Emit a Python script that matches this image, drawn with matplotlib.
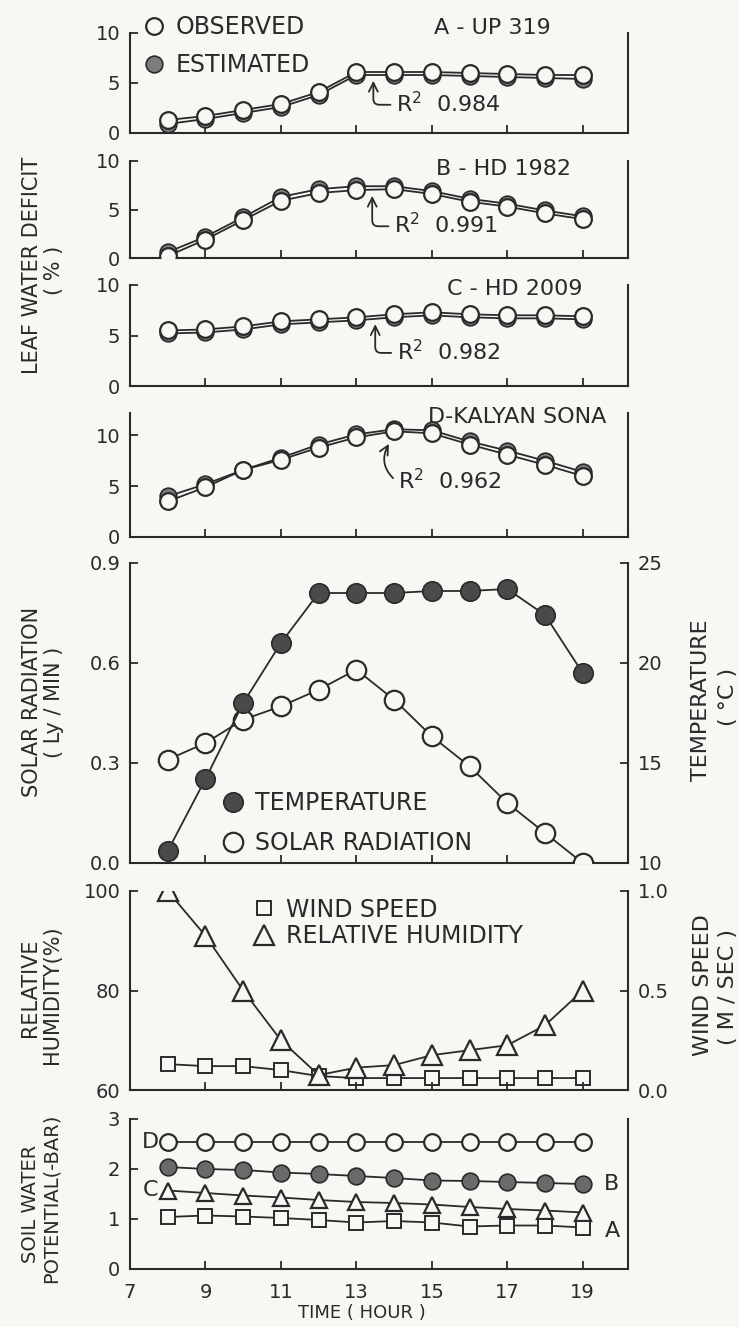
import matplotlib
matplotlib.use("Agg")
import matplotlib.pyplot as plt
from matplotlib.lines import Line2D

# ---------------- data ----------------
hours = [8, 9, 10, 11, 12, 13, 14, 15, 16, 17, 18, 19]

lwd_up319_obs = [1.3, 1.7, 2.3, 2.9, 4.1, 6.1, 6.1, 6.1, 6.0, 5.9, 5.8, 5.8]
lwd_up319_est = [0.9, 1.4, 2.0, 2.6, 3.8, 5.8, 5.8, 5.8, 5.7, 5.6, 5.5, 5.4]
lwd_hd1982_obs = [0.2, 1.9, 3.9, 5.9, 6.7, 7.0, 7.1, 6.6, 5.8, 5.3, 4.6, 4.0]
lwd_hd1982_est = [0.6, 2.2, 4.2, 6.3, 7.1, 7.4, 7.4, 6.9, 6.1, 5.6, 4.9, 4.3]
lwd_hd2009_obs = [5.5, 5.6, 5.9, 6.4, 6.6, 6.8, 7.1, 7.3, 7.1, 7.0, 7.0, 6.9]
lwd_hd2009_est = [5.2, 5.3, 5.6, 6.1, 6.3, 6.5, 6.8, 7.0, 6.8, 6.7, 6.7, 6.6]
lwd_kalyan_obs = [3.5, 4.9, 6.6, 7.6, 8.8, 9.8, 10.4, 10.2, 9.1, 8.1, 7.1, 6.0]
lwd_kalyan_est = [4.0, 5.2, 6.6, 7.8, 9.1, 10.1, 10.6, 10.5, 9.4, 8.5, 7.5, 6.4]
variety_labels = ["A - UP 319", "B - HD 1982", "C - HD 2009", "D-KALYAN SONA"]
r2_values = ["0.984", "0.991", "0.982", "0.962"]

solar_radiation = [0.31, 0.36, 0.43, 0.47, 0.52, 0.58, 0.49, 0.38, 0.29, 0.18, 0.09, 0.0]
temperature = [10.6, 14.2, 18.0, 21.0, 23.5, 23.5, 23.5, 23.6, 23.6, 23.7, 22.4, 19.5]

relative_humidity = [100, 91, 80, 70, 63, 64.5, 65, 67, 68, 69, 73, 80]
wind_speed = [0.13, 0.12, 0.12, 0.10, 0.07, 0.06, 0.06, 0.06, 0.06, 0.06, 0.06, 0.06]

swp_D = [2.55, 2.55, 2.55, 2.55, 2.55, 2.55, 2.55, 2.55, 2.55, 2.55, 2.55, 2.55]
swp_B = [2.04, 2.00, 1.98, 1.93, 1.90, 1.86, 1.82, 1.77, 1.76, 1.74, 1.72, 1.70]
swp_C = [1.57, 1.52, 1.47, 1.43, 1.38, 1.34, 1.32, 1.29, 1.24, 1.20, 1.17, 1.13]
swp_A = [1.04, 1.07, 1.05, 1.02, 0.98, 0.93, 0.96, 0.93, 0.85, 0.87, 0.87, 0.83]

x_ticks = [7, 9, 11, 13, 15, 17, 19]

# ---------------- style ----------------
W, H = 739, 1327
BG = "#f7f7f4"
INK = "#2a2a2a"
EST = "#7c7c7c"
DARK = "#4a4a4a"
LEFT, RIGHT = 130, 628
TICK_FS = 14
TEXT_FS = 17

fig = plt.figure(figsize=(W / 100, H / 100), dpi=100)
fig.patch.set_facecolor(BG)


def add_panel(top, bottom, ylim, yticks, bottom_labels=False):
    ax = fig.add_axes([LEFT / W, 1 - bottom / H, (RIGHT - LEFT) / W, (bottom - top) / H])
    ax.set_facecolor("none")
    ax.set_xlim(7, 20.2)
    ax.set_ylim(*ylim)
    ax.set_yticks(yticks)
    ax.spines["top"].set_visible(False)
    for s in ("left", "right", "bottom"):
        ax.spines[s].set_linewidth(1.5)
        ax.spines[s].set_color(INK)
    ax.tick_params(direction="in", length=6, width=1.3, color=INK,
                   labelsize=TICK_FS, labelcolor=INK, pad=7)
    if bottom_labels:
        ax.set_xticks(x_ticks)
        ax.tick_params(axis="x", pad=10)
    else:
        ax.set_xticks(x_ticks[1:])
        ax.tick_params(axis="x", labelbottom=False)
    return ax


def style_twin(ax2, ylim, yticks):
    ax2.set_xlim(7, 20.2)
    ax2.set_ylim(*ylim)
    ax2.set_yticks(yticks)
    for s in ("top", "left", "bottom"):
        ax2.spines[s].set_visible(False)
    ax2.spines["right"].set_linewidth(1.5)
    ax2.spines["right"].set_color(INK)
    ax2.tick_params(direction="in", length=6, width=1.3, color=INK,
                    labelsize=TICK_FS, labelcolor=INK, pad=7)


# ---------------- leaf water deficit panels ----------------
leaf_rows = [
    (33, 133, (0, 10), lwd_up319_obs, lwd_up319_est, (16.6, 10.5), (13.45, 5.5), (14.05, 2.95), "angle"),
    (161, 258, (0, 10), lwd_hd1982_obs, lwd_hd1982_est, (16.9, 9.2), (13.42, 6.7), (14.0, 3.4), "angle"),
    (285, 386, (0, 10), lwd_hd2009_obs, lwd_hd2009_est, (17.2, 9.6), (13.5, 6.4), (14.07, 3.4), "angle"),
    (413, 537, (0, 12.2), lwd_kalyan_obs, lwd_kalyan_est, (17.25, 11.8), (13.9, 9.4), (14.1, 5.5), "arc"),
]

leaf_axes = []
for i, (top, bot, yl, obs, est, tpos, pxy, rxy, kind) in enumerate(leaf_rows):
    ax = add_panel(top, bot, yl, [0, 5, 10])
    ax.plot(hours, est, "-", color=INK, lw=1.3, marker="o", ms=12, mfc=EST,
            mec=INK, mew=1.2, zorder=2)
    ax.plot(hours, obs, "-", color=INK, lw=1.3, marker="o", ms=12, mfc=BG,
            mec=INK, mew=1.6, zorder=3)
    ax.text(tpos[0], tpos[1], variety_labels[i], fontsize=16, color=INK,
            ha="center", va="center", clip_on=False)
    cs = "angle,angleA=0,angleB=90,rad=6" if kind == "angle" else "arc3,rad=-0.45"
    ax.annotate("R$^2$  " + r2_values[i], xy=pxy, xytext=rxy, fontsize=16,
                color=INK, ha="left", va="center",
                arrowprops=dict(arrowstyle="->", color=INK, lw=1.3,
                                connectionstyle=cs, relpos=(0, 0.45),
                                shrinkA=2, shrinkB=2))
    leaf_axes.append(ax)

leg_handles = [
    Line2D([], [], ls="none", marker="o", ms=12, mfc=BG, mec=INK, mew=1.6),
    Line2D([], [], ls="none", marker="o", ms=12, mfc=EST, mec=INK, mew=1.2),
]
leaf_axes[0].legend(leg_handles, ["OBSERVED", "ESTIMATED"], loc="upper left",
                    bbox_to_anchor=(0.024, 1.18), frameon=False, fontsize=TEXT_FS,
                    handlelength=1.0, handletextpad=0.42, labelspacing=0.6,
                    borderpad=0, borderaxespad=0, labelcolor=INK)

# ---------------- solar radiation / temperature ----------------
axs = add_panel(563, 863, (0, 0.9), [0.0, 0.3, 0.6, 0.9])
axs.yaxis.set_major_formatter(matplotlib.ticker.FormatStrFormatter("%.1f"))
axs.spines["right"].set_visible(False)
axs.plot(hours, solar_radiation, "-", color=INK, lw=1.3, marker="o", ms=14,
         mfc=BG, mec=INK, mew=1.6, zorder=3)
axt = axs.twinx()
style_twin(axt, (10, 25), [10, 15, 20, 25])
axt.plot(hours, temperature, "-", color=INK, lw=1.3, marker="o", ms=14,
         mfc=DARK, mec=INK, mew=1.2, zorder=3)
st_handles = [
    Line2D([], [], ls="none", marker="o", ms=14, mfc=DARK, mec=INK, mew=1.2),
    Line2D([], [], ls="none", marker="o", ms=14, mfc=BG, mec=INK, mew=1.6),
]
axt.legend(st_handles, ["TEMPERATURE", "SOLAR RADIATION"], loc="upper left",
           bbox_to_anchor=(0.184, 0.24), frameon=False, fontsize=TEXT_FS,
           handlelength=1.0, handletextpad=0.42, labelspacing=0.68,
           borderpad=0, borderaxespad=0, labelcolor=INK)

# ---------------- relative humidity / wind speed ----------------
axr = add_panel(891, 1090, (60, 100), [60, 80, 100])
axr.spines["right"].set_visible(False)
axr.plot(hours, relative_humidity, "-", color=INK, lw=1.3, marker="^", ms=14,
         mfc=BG, mec=INK, mew=1.6, zorder=4)
axw = axr.twinx()
style_twin(axw, (0, 1.0), [0.0, 0.5, 1.0])
axw.yaxis.set_major_formatter(matplotlib.ticker.FormatStrFormatter("%.1f"))
axw.plot(hours, wind_speed, "-", color=INK, lw=1.3, marker="s", ms=10,
         mfc=BG, mec=INK, mew=1.4, zorder=2)
axr.set_zorder(axw.get_zorder() + 1)
rw_handles = [
    Line2D([], [], ls="none", marker="s", ms=10, mfc=BG, mec=INK, mew=1.4),
    Line2D([], [], ls="none", marker="^", ms=14, mfc=BG, mec=INK, mew=1.6),
]
axr.legend(rw_handles, ["WIND SPEED", "RELATIVE HUMIDITY"], loc="upper left",
           bbox_to_anchor=(0.245, 0.967), frameon=False, fontsize=TEXT_FS,
           handlelength=1.0, handletextpad=0.42, labelspacing=0.1,
           borderpad=0, borderaxespad=0, labelcolor=INK)

# ---------------- soil water potential ----------------
axp = add_panel(1119, 1269, (0, 3), [0, 1, 2, 3], bottom_labels=True)
axp.plot(hours, swp_D, "-", color=INK, lw=1.3, marker="o", ms=12, mfc=BG,
         mec=INK, mew=1.6)
axp.plot(hours, swp_B, "-", color=INK, lw=1.3, marker="o", ms=12, mfc="#6a6a6a",
         mec=INK, mew=1.2)
axp.plot(hours, swp_C, "-", color=INK, lw=1.3, marker="^", ms=12, mfc=BG,
         mec=INK, mew=1.6)
axp.plot(hours, swp_A, "-", color=INK, lw=1.3, marker="s", ms=10, mfc=BG,
         mec=INK, mew=1.4)
axp.text(7.55, swp_D[0], "D", fontsize=16, color=INK, ha="center", va="center")
axp.text(7.55, swp_C[0], "C", fontsize=16, color=INK, ha="center", va="center")
axp.text(19.75, swp_B[-1], "B", fontsize=16, color=INK, ha="center", va="center")
axp.text(19.8, 0.76, "A", fontsize=16, color=INK, ha="center", va="center")

# ---------------- axis titles ----------------
def vlabel(x, y, s, size):
    fig.text(x / W, 1 - y / H, s, rotation=90, fontsize=size, color=INK,
             ha="center", va="center")

vlabel(32, 265, "LEAF WATER DEFICIT", 15)
vlabel(54, 270, "( % )", 15)
vlabel(32, 702, "SOLAR RADIATION", 15)
vlabel(54, 702, "( Ly / MIN )", 15)
vlabel(30, 988, "RELATIVE", 15)
vlabel(52, 995, "HUMIDITY(%)", 15)
vlabel(30, 1204, "SOIL WATER", 14)
vlabel(51, 1198, "POTENTIAL(-BAR)", 14)
vlabel(701, 700, "TEMPERATURE", 16)
vlabel(728, 697, "( \u00b0C )", 16)
vlabel(703, 985, "WIND SPEED", 16)
vlabel(728, 987, "( M / SEC )", 16)

fig.text(362 / W, 1 - 1318 / H, "TIME ( HOUR )", fontsize=13, color=INK,
         ha="center", va="baseline")

fig.savefig("out.png", dpi=100, facecolor=BG)
